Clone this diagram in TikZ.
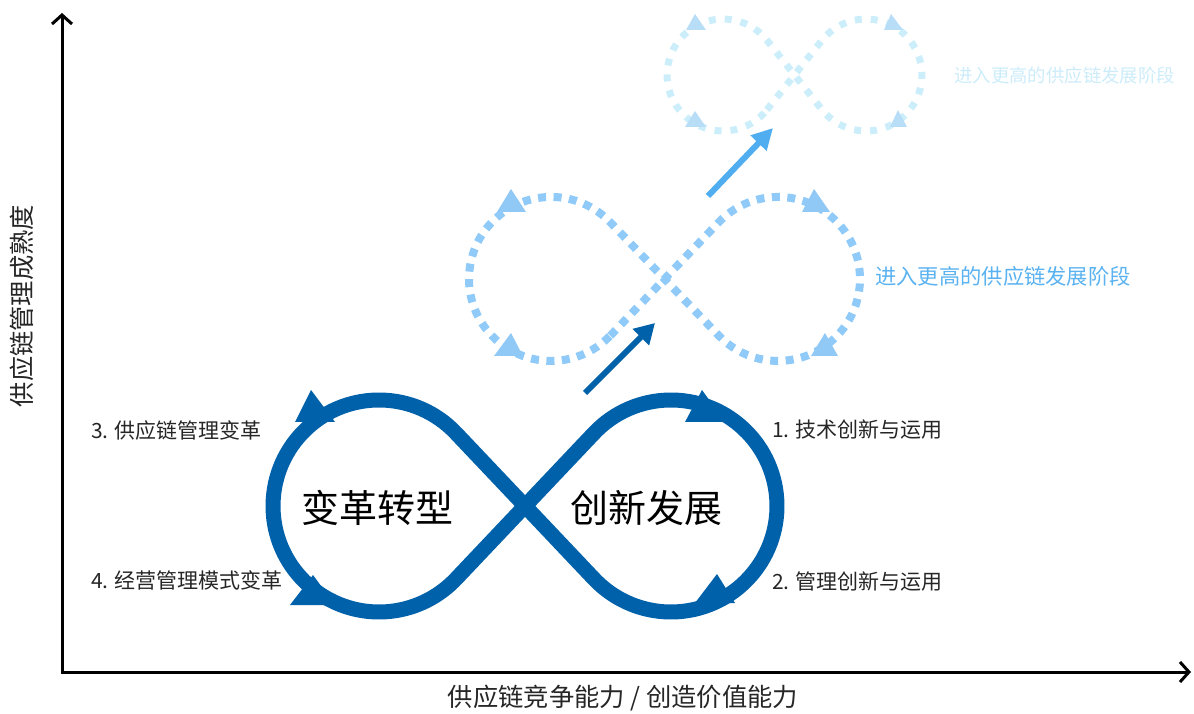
\documentclass[tikz,border=0pt]{standalone}
\usepackage{fontspec}
\setmainfont{Noto Sans CJK SC}
\usetikzlibrary{arrows.meta}
\definecolor{mainblue}{RGB}{0,97,171}
\definecolor{middot}{RGB}{144,202,249}
\definecolor{midtri}{RGB}{144,200,246}
\definecolor{topdot}{RGB}{204,238,251}
\definecolor{toptri}{RGB}{184,221,246}
\definecolor{midtext}{RGB}{90,178,240}
\definecolor{toptext}{RGB}{204,236,250}
\definecolor{lightarrow}{RGB}{80,174,240}
\tikzset{
  axisline/.style={line width=3pt, black, line cap=round, line join=miter},
  mainloop/.style={line width=15pt, mainblue, line join=round},
  midloop/.style={line width=8pt, middot, dash pattern=on 8pt off 7.5pt},
  toploop/.style={line width=7pt, topdot, dash pattern=on 7pt off 9pt},
  lbl/.style={font=\fontsize{21}{25}\selectfont, text=black!85, inner sep=0pt, anchor=west},
  biglbl/.style={font=\fontsize{38}{44}\selectfont, text=black, inner sep=0pt},
  axlbl/.style={font=\fontsize{25.3}{30}\selectfont, text=black!85, inner sep=0pt},
}
\begin{document}
\begin{tikzpicture}[x=1pt,y=1pt]
\useasboundingbox (0,0) rectangle (1194,713);
% axes
\coordinate (ytop) at (62,700);
\coordinate (origin) at (62,41);
\coordinate (xend) at (1191,41);
\draw[axisline, {Straight Barb[length=9pt,width=20pt]}-{Straight Barb[length=9pt,width=20pt]}] (ytop) -- (origin) -- (xend);
\node[axlbl, rotate=90] (ylab) at (22,407) {供应链管理成熟度};
\node[axlbl] (xlab) at (623,15) {供应链竞争能力 / 创造价值能力};

% top dotted infinity
\draw[toploop] (766.9,603.2) -- (822.1,672.8) arc[start angle=141.55, end angle=-141.55, radius=56] -- (766.9,672.8) arc[start angle=38.45, end angle=321.55, radius=56] -- cycle;
\fill[toptri] (695,699) -- (686,683) -- (706,683) -- cycle;
\fill[toptri] (891,699) -- (884,683) -- (903,683) -- cycle;
\fill[toptri] (695,602) -- (685,586) -- (706,586) -- cycle;
\fill[toptri] (898,603) -- (890,586) -- (907,586) -- cycle;
\node[font=\fontsize{18.4}{22}\selectfont, text=toptext, inner sep=0pt, anchor=west] (toplab) at (954,637) {进入更高的供应链发展阶段};

% mid dotted infinity
\draw[midloop] (610.3,377.3) -- (718.7,490.7) arc[start angle=136.3, end angle=-136.3, radius=82] -- (610.3,490.7) arc[start angle=43.7, end angle=316.3, radius=82] -- cycle;
\fill[midtri] (511,524) -- (497,501) -- (526,501) -- cycle;
\fill[midtri] (814,524) -- (802,501) -- (830,501) -- cycle;
\fill[midtri] (511,380) -- (494,357) -- (523,357) -- cycle;
\fill[midtri] (825,380) -- (811,357) -- (838,357) -- cycle;
\node[font=\fontsize{21.3}{25}\selectfont, text=midtext, inner sep=0pt, anchor=west] (midlab) at (875,437) {进入更高的供应链发展阶段};

% arrows between stages
\coordinate (a1s) at (585,320);
\coordinate (a1e) at (655,390);
\draw[line width=6pt, mainblue, -{Triangle[length=20pt,width=22pt]}] (a1s) -- (a1e);
\coordinate (a2s) at (708,517);
\coordinate (a2e) at (773,585);
\draw[line width=6pt, lightarrow, -{Triangle[length=21pt,width=21pt]}] (a2s) -- (a2e);

% main infinity
\draw[mainloop] (455.96,134.1) -- (594.04,279.9) arc[start angle=136.55, end angle=-136.55, radius=106] -- (455.96,279.9) arc[start angle=43.45, end angle=316.55, radius=106] -- cycle;
\fill[mainblue] (311,323) -- (295,291) -- (335,291) -- cycle;
\fill[mainblue] (702,323) -- (685,291) -- (725,291) -- cycle;
\fill[mainblue] (313,138) -- (290,108) -- (335,108) -- cycle;
\fill[mainblue] (717,139) -- (695,110) -- (735,110) -- cycle;

\node[biglbl] (left) at (377,205) {变革转型};
\node[biglbl] (right) at (646,205) {创新发展};

\node[lbl] (l3) at (91,283) {3. 供应链管理变革};
\node[lbl] (l4) at (91,133) {4. 经营管理模式变革};
\node[lbl] (l1) at (772,283) {1. 技术创新与运用};
\node[lbl] (l2) at (772,131) {2. 管理创新与运用};
\end{tikzpicture}
\end{document}
